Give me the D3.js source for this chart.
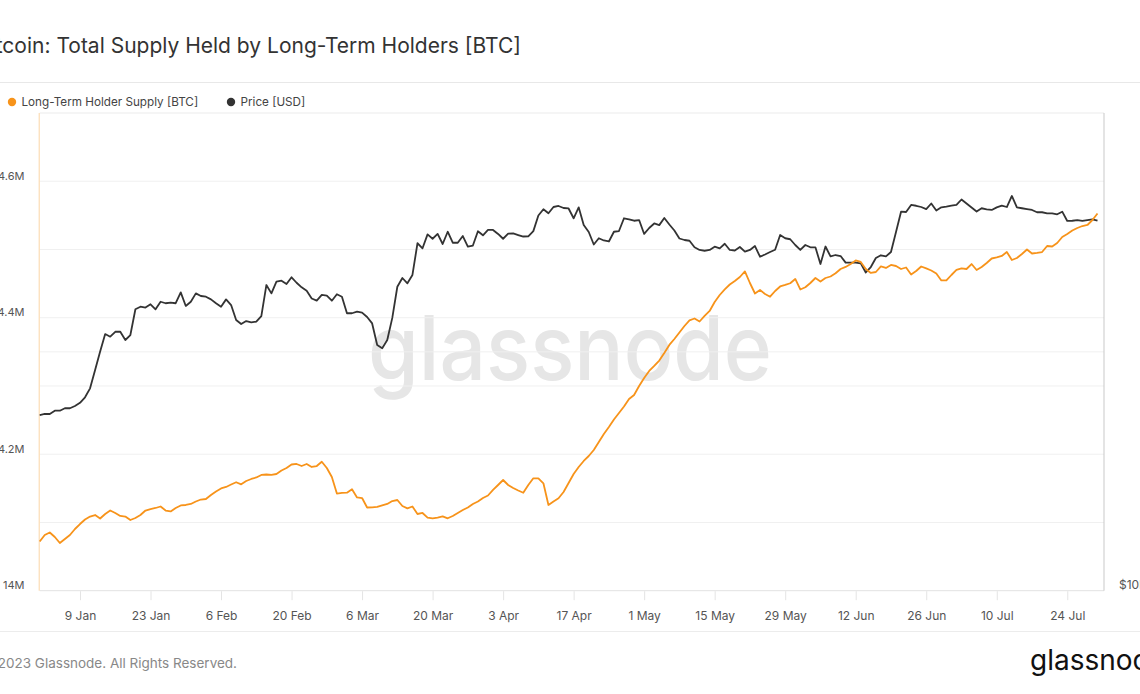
<!DOCTYPE html>
<html><head><meta charset="utf-8">
<script src="https://cdn.jsdelivr.net/npm/d3@7"></script>
<style>
body{margin:0;background:#fff;overflow:hidden}
svg{display:block;font-family:Inter,"Noto Sans",sans-serif}
</style>
</head><body>
<svg id="c" width="1140" height="694"></svg>
<script>
// ---------- data ----------
const startDate = "2023-01-01"; // first daily observation
// Long-Term Holder Supply, millions of BTC (daily)
const lthSupply = [
14.0721,14.0816,14.0853,14.0787,14.0699,14.0758,14.0816,14.0904,14.0977,14.1043,
14.1087,14.1109,14.1058,14.1124,14.1175,14.1139,14.1095,14.1087,14.1036,14.1065,
14.1109,14.1175,14.1197,14.1212,14.1234,14.1175,14.1161,14.1212,14.1249,14.1256,
14.1271,14.1307,14.1336,14.1344,14.1402,14.1454,14.1498,14.1520,14.1556,14.1589,
14.1559,14.1608,14.1637,14.1659,14.1696,14.1703,14.1696,14.1710,14.1761,14.1798,
14.1849,14.1857,14.1827,14.1857,14.1813,14.1827,14.1890,14.1798,14.1666,14.1424,
14.1432,14.1436,14.1486,14.1366,14.1358,14.1219,14.1222,14.1227,14.1249,14.1271,
14.1314,14.1329,14.1241,14.1207,14.1234,14.1124,14.1139,14.1070,14.1061,14.1070,
14.1090,14.1061,14.1095,14.1139,14.1183,14.1219,14.1271,14.1307,14.1358,14.1395,
14.1476,14.1549,14.1622,14.1549,14.1505,14.1468,14.1436,14.1549,14.1647,14.1647,
14.1574,14.1256,14.1307,14.1354,14.1446,14.1578,14.1710,14.1813,14.1901,14.1974,
14.2062,14.2179,14.2296,14.2399,14.2509,14.2604,14.2699,14.2809,14.2868,14.3000,
14.3117,14.3220,14.3293,14.3373,14.3483,14.3601,14.3688,14.3784,14.3879,14.3960,
14.3989,14.3945,14.4026,14.4099,14.4231,14.4333,14.4414,14.4487,14.4538,14.4597,
14.4678,14.4509,14.4355,14.4406,14.4348,14.4308,14.4392,14.4458,14.4480,14.4505,
14.4568,14.4414,14.4446,14.4509,14.4582,14.4531,14.4582,14.4604,14.4651,14.4714,
14.4744,14.4787,14.4839,14.4817,14.4714,14.4656,14.4670,14.4751,14.4729,14.4773,
14.4758,14.4714,14.4736,14.4634,14.4685,14.4751,14.4722,14.4692,14.4648,14.4546,
14.4546,14.4626,14.4700,14.4722,14.4714,14.4787,14.4700,14.4744,14.4802,14.4868,
14.4883,14.4905,14.4963,14.4846,14.4875,14.4934,14.5000,14.4941,14.4949,14.4963,
14.5051,14.5044,14.5095,14.5183,14.5227,14.5279,14.5315,14.5344,14.5359,14.5432,
14.5528];
// BTC price, USD (daily)
const price = [
16650,16700,16700,16860,16860,16980,16980,17090,17250,17530,
17990,18970,20020,21060,20900,21200,21200,20700,21000,22630,
22800,22740,22960,22630,23130,23030,23070,23030,23770,22850,
23130,23700,23520,23470,23290,23030,22800,23290,22910,21940,
21680,21870,21790,21830,22190,24280,23700,24520,24590,24350,
24830,24440,24120,23880,23350,23210,23590,23550,23200,23640,
23470,22370,22370,22470,22410,22130,21720,20400,20210,20700,
22070,24160,24780,24400,25000,27410,27010,28120,27770,28160,
27350,28340,27450,27450,27990,27140,27230,28380,28050,28490,
28490,28160,27770,28180,28200,28070,27950,27970,28390,29710,
30250,29900,30450,30540,30360,30320,29470,30420,28900,28320,
27310,27810,27630,27550,28340,28400,29470,29380,29260,29320,
28160,28650,29030,28890,29490,28940,28440,27790,27670,27610,
27090,26880,26820,26880,27140,27010,27370,26880,26840,27110,
26750,26880,27190,26360,26530,26720,26900,28070,27810,27730,
27270,26880,27270,27090,27090,25810,27150,26380,26490,26410,
25910,25910,25910,25860,25180,25580,26260,26470,26380,26720,
28320,30040,30010,30630,30560,30450,30270,30760,30140,30420,
30480,30570,30630,31120,30760,30410,30050,30340,30250,30190,
30420,30570,30450,31440,30420,30340,30270,30190,29990,29990,
29900,29900,29810,30040,29240,29260,29320,29240,29320,29380,
29260];
const xTickDates = ["2023-01-09","2023-01-23","2023-02-06","2023-02-20","2023-03-06",
  "2023-03-20","2023-04-03","2023-04-17","2023-05-01","2023-05-15","2023-05-29",
  "2023-06-12","2023-06-26","2023-07-10","2023-07-24"];
const leftDomain = [14.0, 14.7];          // millions BTC
const leftGrid = [14.1,14.2,14.3,14.4,14.5,14.6];
const leftLabels = [14.0,14.2,14.4,14.6];
const rightDomain = [10000, 40000];       // USD, log scale
const rightGrid = [20000];
const rightLabels = [10000];
const seriesNames = ["Long-Term Holder Supply [BTC]", "Price [USD]"];
const colors = {lth:"#f7931a", price:"#333333"};

// ---------- layout ----------
const W = 1140, H = 694;
const plot = {left:39.7, right:1104, top:113, bottom:590.7};
const svg = d3.select("#c");
const parse = d3.utcParse("%Y-%m-%d");
const t0 = parse(startDate);
const dates = lthSupply.map((_, i) => d3.utcDay.offset(t0, i));

const x = d3.scaleUtc()
  .domain([t0, d3.utcHour.offset(t0, 5071)])
  .range([plot.left, plot.right]);
const yL = d3.scaleLinear().domain(leftDomain).range([plot.bottom, plot.top]);
const yR = d3.scaleLog().domain(rightDomain).range([plot.bottom, plot.top]);

svg.append("rect").attr("width", W).attr("height", H).attr("fill", "#fff");

// title
svg.append("text").attr("x", 521).attr("y", 52.5).attr("text-anchor", "end")
  .attr("font-size", 21).attr("fill", "#333")
  .text("Bitcoin: Total Supply Held by Long-Term Holders [BTC]");
svg.append("line").attr("x1", 0).attr("x2", W).attr("y1", 82.5).attr("y2", 82.5)
  .attr("stroke", "#e8e8e8");

// legend
const leg = svg.append("g").attr("font-size", 11.7).attr("fill", "#444");
[[12, colors.lth, seriesNames[0]], [231, colors.price, seriesNames[1]]].forEach(([lx, c, t]) => {
  leg.append("circle").attr("cx", lx).attr("cy", 102).attr("r", 4.2).attr("fill", c);
  leg.append("text").attr("x", lx + 9.5).attr("y", 106.2).text(t);
});

// watermark
svg.append("text").attr("x", 368).attr("y", 380)
  .attr("font-size", 90).attr("font-weight", 500).attr("fill", "#e6e6e6")
  .attr("textLength", 404).attr("lengthAdjust", "spacingAndGlyphs")
  .text("glassnode");

// gridlines
const grid = svg.append("g").attr("stroke", "#f0f0f0").attr("stroke-width", 1);
grid.selectAll("line.l").data(leftGrid).join("line").attr("class", "l")
  .attr("x1", plot.left).attr("x2", plot.right)
  .attr("y1", d => yL(d)).attr("y2", d => yL(d));
grid.selectAll("line.r").data(rightGrid).join("line").attr("class", "r")
  .attr("x1", plot.left).attr("x2", plot.right)
  .attr("y1", d => yR(d)).attr("y2", d => yR(d));

// frame
svg.append("line").attr("x1", plot.left).attr("x2", plot.right)
  .attr("y1", plot.top).attr("y2", plot.top).attr("stroke", "#ebebeb");
svg.append("line").attr("x1", plot.left).attr("x2", plot.right)
  .attr("y1", plot.bottom).attr("y2", plot.bottom).attr("stroke", "#e2e2e2");
svg.append("line").attr("x1", plot.right).attr("x2", plot.right)
  .attr("y1", plot.top).attr("y2", plot.bottom).attr("stroke", "#c9c9c9");
svg.append("line").attr("x1", plot.left - 0.5).attr("x2", plot.left - 0.5)
  .attr("y1", plot.top).attr("y2", plot.bottom).attr("stroke", "#fbd6a6");

// x axis
const xAxis = d3.axisBottom(x)
  .tickValues(xTickDates.map(parse))
  .tickFormat(d3.utcFormat("%-d %b"))
  .tickSize(9).tickPadding(11);
const gx = svg.append("g").attr("transform", `translate(0,${plot.bottom + 0.5})`).call(xAxis);
gx.select(".domain").remove();
gx.selectAll(".tick line").attr("stroke", "#e4e4e4");
gx.selectAll(".tick text").attr("fill", "#555").attr("font-size", 12)
  .attr("font-family", "Inter, 'Noto Sans', sans-serif");

// left axis labels
const fmtM = d => d3.format(".1~f")(d) + "M";
svg.append("g").attr("font-size", 11).attr("fill", "#555").attr("text-anchor", "end")
  .selectAll("text").data(leftLabels).join("text")
  .attr("x", 24.5).attr("y", d => yL(d) - 1.5).text(fmtM);

// right axis labels
svg.append("g").attr("font-size", 12).attr("fill", "#555")
  .selectAll("text").data(rightLabels).join("text")
  .attr("x", 1119).attr("y", d => yR(d) - 1.5).text(d => "$" + d3.format("~s")(d));

// lines
const lineL = d3.line().x((d, i) => x(dates[i])).y(d => yL(d));
const lineR = d3.line().x((d, i) => x(dates[i])).y(d => yR(d));
svg.append("path").datum(price).attr("d", lineR).attr("fill", "none")
  .attr("stroke", colors.price).attr("stroke-width", 1.8).attr("stroke-linejoin", "round");
svg.append("path").datum(lthSupply).attr("d", lineL).attr("fill", "none")
  .attr("stroke", colors.lth).attr("stroke-width", 1.8).attr("stroke-linejoin", "round");

// footer
svg.append("line").attr("x1", 0).attr("x2", W).attr("y1", 631.5).attr("y2", 631.5)
  .attr("stroke", "#ececec");
svg.append("text").attr("x", 237).attr("y", 667.5).attr("text-anchor", "end")
  .attr("font-size", 13.5).attr("fill", "#888")
  .text("© 2023 Glassnode. All Rights Reserved.");
svg.append("text").attr("x", 1030).attr("y", 670)
  .attr("font-size", 28).attr("font-weight", 400).attr("fill", "#111")
  .text("glassnode");
</script>
</body></html>
